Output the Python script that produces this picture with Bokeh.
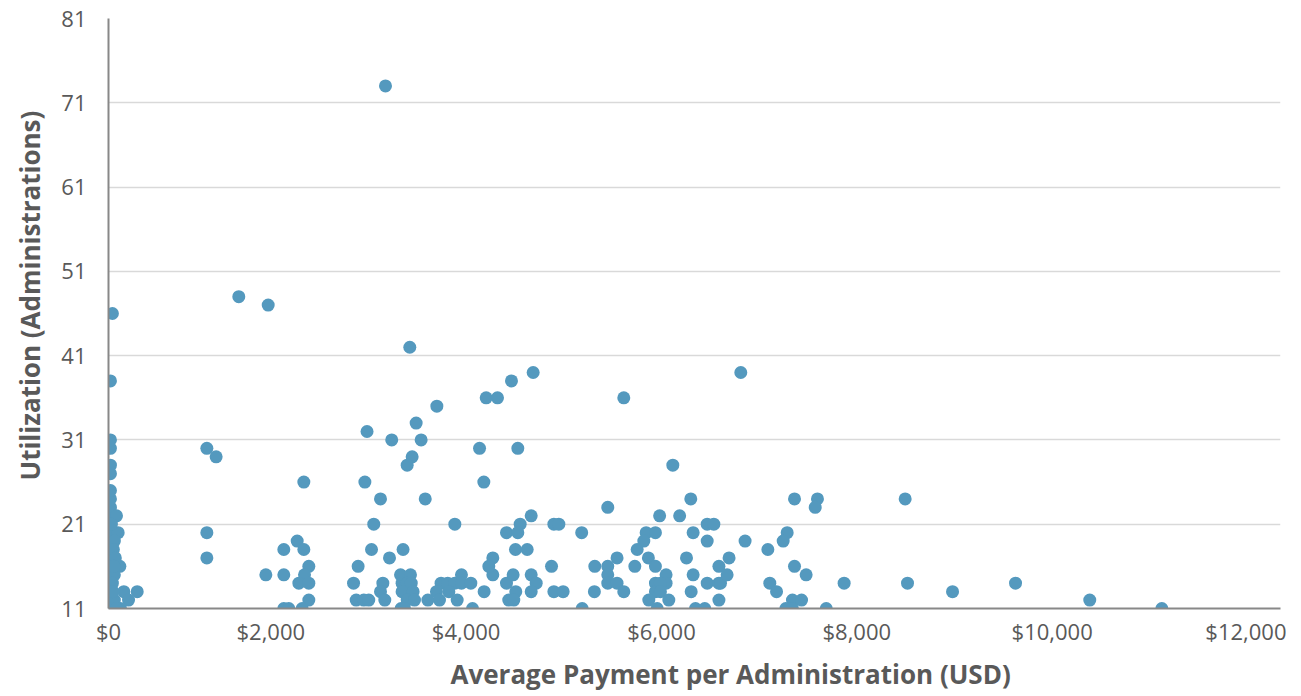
from bokeh.plotting import figure
from bokeh.models import (Range1d, FixedTicker, ColumnDataSource, Title, LinearAxis,
                          NumeralTickFormatter)
from bokeh.embed import file_html
from bokeh.resources import INLINE

# Average payment per administration (USD)
payment = [
    20, 20, 20, 20, 20, 20, 20, 20, 20, 20, 20, 20, 20, 20, 20, 20, 20, 20, 20, 20, 40,
    82, 99, 116, 157, 205, 294, 123, 40, 60, 50, 70, 60, 40, 60, 45, 30, 55, 80,
    1334, 1635, 1007, 1102, 1007, 1007, 1611,
    1795, 1932, 2000, 2000, 2693, 3016, 2877, 2051, 2556, 1795, 2007, 1949, 2051, 2509, 2809,
    2990, 3092, 3006, 3058, 3100, 3405, 3473, 3546, 3614, 3614, 3710, 3935, 2785, 3006, 3119,
    3358, 3485, 3846, 2051, 2536, 2614, 2665, 2829, 3058, 3133, 3270, 3389, 3570, 1795, 1846,
    1983, 2996, 3031, 3727, 3085, 3867, 3983, 3362, 3150, 2647, 2900, 3201, 3799, 3109, 3058,
    2625, 3843, 2785, 3243, 2716, 3546, 3935, 3894, 2836,
    4348, 4126, 4191, 4328, 4215, 4560, 4611, 4075, 4191, 4845, 4167, 4287, 4536, 4075, 4143,
    4328, 4379, 4170, 4328, 4560, 4655, 4098, 4150, 4850, 5276, 6474, 5778, 5112, 5962, 5643,
    5848, 6130, 6198, 5505, 5600, 5986, 5481, 6130, 6518, 6949, 6908, 5413, 6751, 5207, 5528,
    5918, 6354, 4979, 5112, 5389, 5600, 6250, 7024, 5112, 5112, 5207, 5600, 5709, 5709, 5651,
    5986, 6130, 6249, 6266, 6334, 6771, 4975, 5276, 5600, 5651, 5966, 6840, 5532, 5737, 6250,
    7003, 7096, 5618, 6010, 6105, 6935, 7003,
    7024, 7259, 7236, 8157, 7143, 7532, 8181, 9287, 8642, 7349, 10047, 10785,
]

# Utilization (administrations)
utilization = [
    11, 12, 13, 14, 15, 16, 17, 18, 19, 20, 21, 22, 23, 24, 25, 27, 28, 30, 31, 38, 46,
    22, 20, 16, 13, 12, 13, 11, 11, 19, 18, 17, 15, 14, 12, 13, 21, 16, 11,
    48, 47, 30, 29, 20, 17, 15,
    18, 19, 18, 26, 18, 18, 17, 16, 16, 15, 15, 14, 14, 14, 14,
    15, 15, 14, 14, 14, 14, 14, 14, 15, 14, 14, 15, 13, 13, 13,
    13, 13, 13, 12, 12, 12, 12, 12, 12, 12, 12, 12, 12, 11, 11,
    11, 11, 11, 11, 42, 36, 36, 35, 33, 32, 31, 31, 30, 29, 28,
    26, 26, 24, 24, 21, 21, 17, 16, 73,
    39, 38, 30, 22, 21, 21, 21, 20, 20, 20, 18, 18, 16, 14, 15,
    15, 14, 13, 13, 13, 13, 12, 12, 11, 36, 39, 28, 23, 24, 22,
    22, 21, 21, 20, 20, 20, 19, 19, 19, 20, 19, 18, 18, 17, 17,
    17, 17, 16, 16, 16, 16, 16, 16, 15, 14, 14, 14, 15, 14, 14,
    15, 14, 14, 14, 15, 14, 13, 13, 13, 13, 13, 13, 12, 12, 12,
    12, 12, 11, 11, 11, 11, 11,
    24, 24, 23, 24, 15, 14, 14, 14, 13, 11, 12, 11,
]

x_ticks = [0, 2000, 4000, 6000, 8000, 10000, 12000]
y_ticks = [11, 21, 31, 41, 51, 61, 71, 81]

x_title = "Average Payment per Administration (USD)"
y_title = "Utilization (Administrations)"

FONT = "Open Sans"
TXT = "#595959"
DOT = "#5499BE"
AXIS = "#888888"

X_START, X_END = 0, 12000
# the reference sets its x tick labels about 33px left of their ticks
# (the "$0" label stays at the axis); done with a shifted range for the label axis
LABEL_SHIFT = 338

source = ColumnDataSource(data=dict(payment=payment, utilization=utilization))

p = figure(frame_width=1172, frame_height=590, output_backend="svg", toolbar_location=None,
           x_range=Range1d(X_START, X_END), y_range=Range1d(11, 81),
           x_axis_location=None,
           min_border_left=108, min_border_right=6, min_border_top=18, min_border_bottom=88)
p.outline_line_color = None
p.background_fill_color = "white"
p.border_fill_color = "white"

p.extra_x_ranges = {"lab": Range1d(X_START + LABEL_SHIFT, X_END + LABEL_SHIFT)}
xaxis = LinearAxis(x_range_name="lab")
label_ticks = [X_START + LABEL_SHIFT] + x_ticks[1:]
xaxis.ticker = FixedTicker(ticks=label_ticks)
xaxis.formatter = NumeralTickFormatter(format="$0,0")
xaxis.major_label_overrides = {X_START + LABEL_SHIFT: "$0"}
p.add_layout(xaxis, "below")

p.scatter("payment", "utilization", source=source, size=13,
          fill_color=DOT, line_color=None)

p.yaxis.ticker = FixedTicker(ticks=y_ticks)

for ax in (xaxis, p.yaxis[0]):
    ax.axis_line_color = AXIS
    ax.axis_line_width = 2
    ax.major_tick_line_color = None
    ax.minor_tick_line_color = None
    ax.major_tick_in = 0
    ax.major_tick_out = 0
    ax.minor_tick_in = 0
    ax.minor_tick_out = 0
    ax.major_label_text_font = FONT
    ax.major_label_text_font_size = "22px"
    ax.major_label_text_color = TXT

p.yaxis.major_label_standoff = 22
xaxis.major_label_standoff = 7

p.add_layout(Title(text=x_title, align="left", offset=342, vertical_align="bottom",
                   standoff=10, text_font=FONT, text_font_size="26px",
                   text_font_style="bold", text_color=TXT), "below")
p.add_layout(Title(text=y_title, align="left", offset=128, vertical_align="middle",
                   standoff=20, text_font=FONT, text_font_size="26px",
                   text_font_style="bold", text_color=TXT), "left")

for g in p.xgrid:
    g.visible = False
p.ygrid.grid_line_color = "#d9d9d9"
p.ygrid.grid_line_width = 1.5

open("out.html", "w").write(file_html(p, INLINE))
